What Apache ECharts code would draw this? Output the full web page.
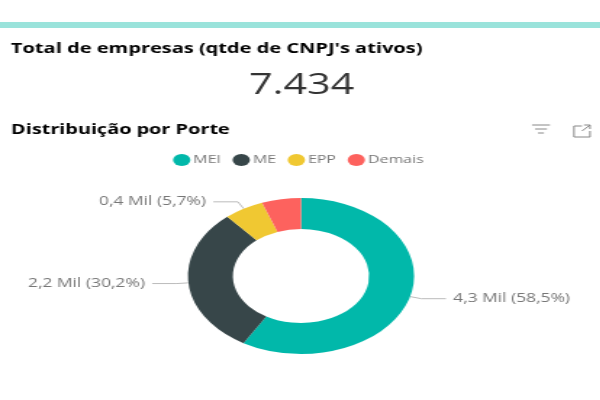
<!DOCTYPE html>
<html>
<head>
<meta charset="utf-8">
<script src="https://cdn.jsdelivr.net/npm/echarts@6/dist/echarts.min.js"></script>
<style>
html,body{margin:0;padding:0;background:#fff;overflow:hidden;}
/* the reference is stretched sideways, so the whole chart is stretched the same way */
#panel{width:414px;height:400px;transform:scaleX(1.45);transform-origin:0 0;}
</style>
</head>
<body>
<div id="panel"></div>
<script>
var categories = ['MEI','ME','EPP','Demais'];
var values = [4349,2245,424,416];
var valueLabels = ['4,3 Mil (58,5%)','2,2 Mil (30,2%)','0,4 Mil (5,7%)',''];
var colors = ['#01B8AA','#374649','#F0C832','#FD625E'];
var totalLabel = '7.434';
var cardTitle = "Total de empresas (qtde de CNPJ's ativos)";
var chartTitle = 'Distribuição por Porte';

var fontName = '"Open Sans"';
var sx = 1/1.45; //px do original -> px do div

var pieData = [];
categories.forEach(function(name,i){
    pieData.push({
        name: name,
        value: values[i],
        label: {show: valueLabels[i] != ''},
        labelLine: {show: valueLabels[i] != ''}
    });
});

var myChart = echarts.init(document.getElementById('panel'));
var option = {
    animation: false,
    textStyle: {fontFamily: fontName},
    title: [
        {text: cardTitle, left: 11*sx, top: 42, padding: 0, textStyle: {fontFamily: fontName, fontSize: 13.8, fontWeight: 'bold', color: '#000'}},
        {text: totalLabel, left: 249*sx, top: 71, padding: 0, textStyle: {fontFamily: fontName, fontSize: 28.5, fontWeight: 500, color: '#333'}},
        {text: chartTitle, left: 11*sx, top: 123, padding: 0, textStyle: {fontFamily: fontName, fontSize: 13.7, fontWeight: 'bold', color: '#000'}}
    ],
    legend: {
        data: categories,
        left: 173*sx,
        top: 154,
        padding: 0,
        icon: 'circle',
        itemWidth: 12,
        itemHeight: 12,
        itemGap: 8,
        textStyle: {fontFamily: fontName, fontSize: 11, color: '#777', padding: [0,0,0,-3]}
    },
    series: [{
        type: 'pie',
        center: [301*sx, 276],
        radius: [47, 78],
        startAngle: 90,
        silent: true,
        data: pieData,
        color: colors,
        label: {
            position: 'outside',
            fontFamily: fontName,
            fontSize: 12,
            color: '#777',
            formatter: function(p){ return valueLabels[p.dataIndex]; }
        },
        labelLine: {length: 8, length2: 17, lineStyle: {color: '#bbb', width: 1}}
    }],
    graphic: [
        {type: 'rect', silent: true, shape: {x: 0, y: 22, width: 414, height: 6}, style: {fill: '#9AE3DB'}},
        {type: 'line', shape: {x1: 532*sx, y1: 125, x2: 550*sx, y2: 125}, style: {stroke: '#888', lineWidth: 1}},
        {type: 'line', shape: {x1: 535*sx, y1: 129, x2: 547*sx, y2: 129}, style: {stroke: '#888', lineWidth: 1}},
        {type: 'line', shape: {x1: 538*sx, y1: 133, x2: 544*sx, y2: 133}, style: {stroke: '#888', lineWidth: 1}},
        {type: 'polyline', shape: {points: [[582*sx,126],[574*sx,126],[574*sx,137],[590*sx,137],[590*sx,131]]}, style: {fill: 'none', stroke: '#888', lineWidth: 1}},
        {type: 'polyline', shape: {points: [[584*sx,125],[590*sx,125],[590*sx,129]]}, style: {fill: 'none', stroke: '#888', lineWidth: 1}},
        {type: 'line', shape: {x1: 590*sx, y1: 125, x2: 582*sx, y2: 131}, style: {stroke: '#888', lineWidth: 1}}
    ]
};
myChart.setOption(option);
</script>
</body>
</html>
